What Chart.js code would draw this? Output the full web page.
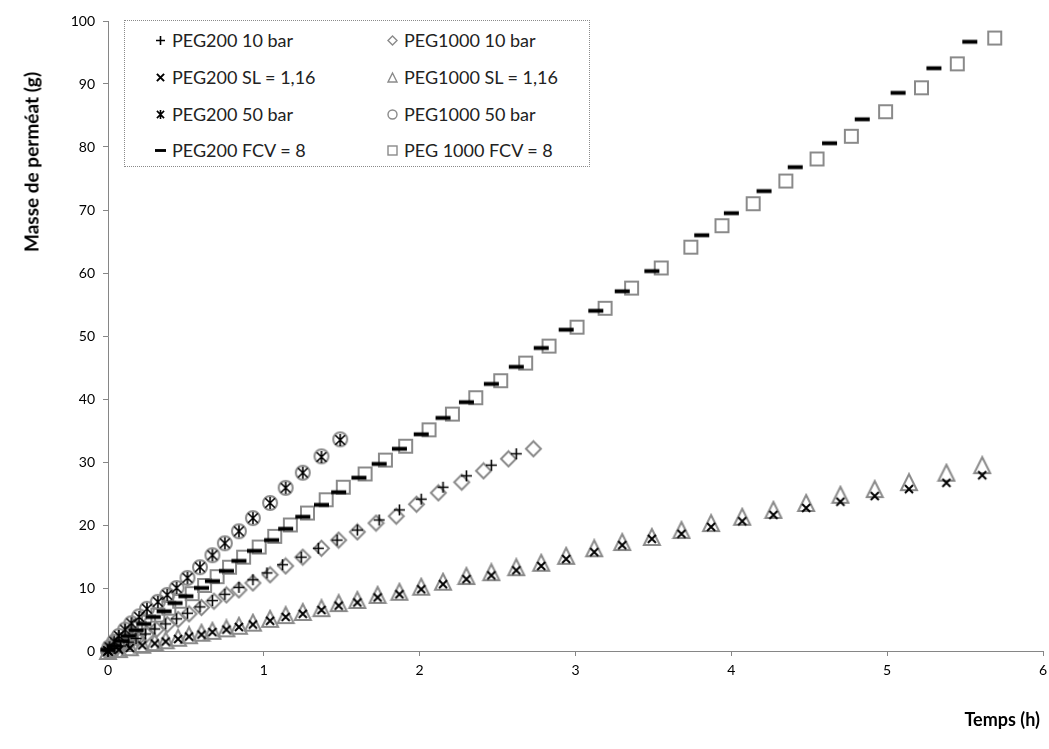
<!DOCTYPE html>
<html>
<head>
<meta charset="utf-8">
<script src="https://cdn.jsdelivr.net/npm/chart.js@4.4.0/dist/chart.umd.min.js"></script>
<style>
  body { margin: 0; background: #fff; font-family: Lato, "Open Sans", sans-serif; }
  #cadre { position: relative; width: 1049px; height: 749px; }
  #graf { position: absolute; left: 0; top: 0; }
  .titreY { position: absolute; left: 31px; top: 162px; transform: translate(-50%, -50%) rotate(-90deg);
            font-weight: bold; font-size: 19px; white-space: nowrap; color: #000; }
  .titreX { position: absolute; right: 9px; top: 708px; font-weight: bold; font-size: 18px; color: #000; }
  #legende { position: absolute; left: 124px; top: 20px; width: 466px; height: 147px;
             border: 1.5px dotted #8a8a8a; box-sizing: border-box; background: #fff; }
  .item { position: absolute; font-size: 18px; color: #222; white-space: nowrap; line-height: 20px; }
  .item canvas { position: absolute; }
</style>
</head>
<body>
<div id="cadre">
  <canvas id="graf" width="1049" height="749"></canvas>
  <div class="titreY">Masse de perméat (g)</div>
  <div class="titreX">Temps (h)</div>
  <div id="legende"></div>
</div>
<script>
// Donnees (temps en h, masse en g)
const peg200_10bar_t = [0.0,0.04,0.08,0.13,0.18,0.24,0.30,0.37,0.44,0.51,0.59,0.67,0.75,0.84,0.93,1.02,1.12,1.24,1.35,1.47,1.60,1.74,1.87,2.01,2.15,2.30,2.46,2.62];
const peg200_10bar_m = [0.0,0.4,0.8,1.4,2.0,2.7,3.5,4.3,5.1,6.0,7.0,8.0,9.0,10.1,11.3,12.4,13.7,14.9,16.3,17.6,19.2,20.8,22.4,24.1,26.0,27.8,29.5,31.3];

const peg1000_10bar_t = [0.01,0.05,0.09,0.14,0.19,0.25,0.31,0.38,0.45,0.52,0.60,0.68,0.76,0.84,0.93,1.04,1.14,1.25,1.37,1.48,1.60,1.72,1.85,1.98,2.12,2.27,2.41,2.57,2.73];
const peg1000_10bar_m = [0.1,0.4,0.9,1.4,2.0,2.7,3.4,4.2,5.0,5.9,6.9,7.9,8.9,9.7,10.8,12.1,13.5,14.9,16.3,17.6,18.9,20.3,21.4,23.3,25.1,26.8,28.6,30.5,32.1];

const sl_t = [0.0,0.07,0.14,0.22,0.30,0.37,0.45,0.52,0.60,0.67,0.76,0.84,0.93,1.04,1.14,1.25,1.37,1.48,1.60,1.73,1.87,2.01,2.15,2.30,2.46,2.62,2.78,2.94,3.12,3.30,3.49,3.68,3.87,4.07,4.27,4.48,4.70,4.92,5.14,5.38,5.61];
const peg200_sl_m = [0.0,0.2,0.5,0.9,1.2,1.5,1.9,2.3,2.6,3.0,3.4,3.8,4.2,4.8,5.4,5.9,6.5,7.2,7.7,8.5,9.0,9.8,10.6,11.4,12.0,12.8,13.5,14.6,15.7,16.8,17.8,18.6,19.7,20.6,21.6,22.7,23.7,24.6,25.7,26.7,27.9];
const peg1000_sl_m = [0.0,0.3,0.6,1.0,1.4,1.7,2.1,2.5,2.9,3.2,3.6,4.0,4.5,5.1,5.7,6.2,6.8,7.6,8.1,8.9,9.4,10.2,11.0,11.9,12.5,13.3,14.0,15.1,16.3,17.3,18.1,19.2,20.3,21.3,22.4,23.5,24.8,25.7,26.8,28.3,29.5];

const peg200_50bar_t = [0.0,0.01,0.04,0.07,0.11,0.15,0.20,0.25,0.32,0.38,0.44,0.51,0.59,0.67,0.75,0.84,0.93,1.04,1.14,1.25,1.37,1.49];
const peg200_50bar_m = [0.0,0.6,1.5,2.4,3.4,4.4,5.4,6.7,7.8,8.9,10.0,11.6,13.3,15.2,17.1,19.0,21.1,23.5,25.9,28.3,30.8,33.5];
const peg1000_50bar_t = [0.0,0.01,0.04,0.07,0.11,0.15,0.20,0.25,0.32,0.38,0.44,0.51,0.59,0.67,0.75,0.84,0.93,1.04,1.14,1.25,1.37,1.49];
const peg1000_50bar_m = [0.0,0.6,1.5,2.4,3.4,4.4,5.5,6.7,7.8,8.9,10.0,11.6,13.3,15.2,17.1,19.0,21.1,23.5,25.9,28.3,30.9,33.6];

const peg200_fcv_t = [0.0,0.04,0.09,0.13,0.18,0.23,0.29,0.36,0.43,0.50,0.60,0.67,0.76,0.84,0.94,1.05,1.14,1.25,1.37,1.48,1.61,1.74,1.87,2.01,2.15,2.30,2.46,2.62,2.78,2.94,3.13,3.30,3.49,3.81,4.00,4.21,4.41,4.63,4.84,5.07,5.30,5.53];
const peg200_fcv_m = [0.2,0.8,1.6,2.4,3.3,4.3,5.4,6.3,7.6,8.7,10.0,11.1,12.7,14.3,15.9,17.6,19.4,21.3,23.2,25.2,27.5,29.7,32.1,34.4,37.0,39.5,42.4,45.1,48.1,51.0,54.0,57.1,60.3,66.0,69.5,73.0,76.8,80.6,84.4,88.6,92.5,96.7];

const peg1000_fcv_t = [0.02,0.06,0.10,0.15,0.20,0.26,0.32,0.39,0.46,0.54,0.62,0.70,0.78,0.87,0.97,1.07,1.17,1.28,1.40,1.51,1.65,1.78,1.91,2.06,2.21,2.36,2.52,2.68,2.83,3.01,3.19,3.36,3.55,3.74,3.94,4.14,4.35,4.55,4.77,4.99,5.22,5.45,5.69];
const peg1000_fcv_m = [0.3,1.0,1.8,2.7,3.6,4.6,5.7,6.8,7.9,9.1,10.4,11.8,13.3,14.9,16.5,18.2,20.0,21.9,24.0,26.0,28.1,30.3,32.5,35.1,37.6,40.2,42.9,45.7,48.4,51.4,54.4,57.6,60.8,64.1,67.5,71.0,74.6,78.1,81.7,85.6,89.4,93.2,97.3];

const ticksX = [0, 1, 2, 3, 4, 5, 6];
const ticksY = [0, 10, 20, 30, 40, 50, 60, 70, 80, 90, 100];

const GRIS = "#8a8a8a";
const NOIR = "#000";

// --- marqueurs dessines dans des petits canvas ---
function marqueur(type, s) {
  const c = document.createElement("canvas");
  const dim = Math.ceil(s) + 4;
  c.width = dim; c.height = dim;
  const ctx = c.getContext("2d");
  const m = dim / 2, h = s / 2;
  ctx.lineCap = "butt";
  if (type === "plus") {
    ctx.strokeStyle = NOIR; ctx.lineWidth = 1.6;
    ctx.beginPath(); ctx.moveTo(m - h, m); ctx.lineTo(m + h, m);
    ctx.moveTo(m, m - h); ctx.lineTo(m, m + h); ctx.stroke();
  } else if (type === "croix") {
    ctx.strokeStyle = NOIR; ctx.lineWidth = 2;
    const k = h * 0.8;
    ctx.beginPath(); ctx.moveTo(m - k, m - k); ctx.lineTo(m + k, m + k);
    ctx.moveTo(m + k, m - k); ctx.lineTo(m - k, m + k); ctx.stroke();
  } else if (type === "etoile") {
    ctx.strokeStyle = NOIR; ctx.lineWidth = 1.6;
    const k = h * 0.8;
    ctx.beginPath(); ctx.moveTo(m - k, m - k); ctx.lineTo(m + k, m + k);
    ctx.moveTo(m + k, m - k); ctx.lineTo(m - k, m + k);
    ctx.moveTo(m, m - h); ctx.lineTo(m, m + h); ctx.stroke();
  } else if (type === "tiret") {
    ctx.fillStyle = NOIR;
    ctx.fillRect(m - h, m - s * 0.13, s, s * 0.26);
  } else if (type === "losange") {
    ctx.strokeStyle = GRIS; ctx.lineWidth = s > 10 ? 2 : 1.4;
    ctx.beginPath(); ctx.moveTo(m, m - h); ctx.lineTo(m + h, m); ctx.lineTo(m, m + h); ctx.lineTo(m - h, m);
    ctx.closePath(); ctx.stroke();
  } else if (type === "triangle") {
    ctx.strokeStyle = GRIS; ctx.lineWidth = s > 10 ? 2 : 1.4;
    ctx.beginPath(); ctx.moveTo(m, m - h); ctx.lineTo(m + h, m + h); ctx.lineTo(m - h, m + h);
    ctx.closePath(); ctx.stroke();
  } else if (type === "rond") {
    ctx.strokeStyle = GRIS; ctx.lineWidth = s > 10 ? 2 : 1.4;
    ctx.beginPath(); ctx.arc(m, m, h, 0, Math.PI * 2); ctx.stroke();
  } else if (type === "carre") {
    ctx.strokeStyle = GRIS; ctx.lineWidth = s > 10 ? 2 : 1.4;
    ctx.strokeRect(m - h, m - h, s, s);
  }
  return c;
}

function points(t, m) {
  return t.map((v, i) => ({ x: v, y: m[i] }));
}

// series (ordre Excel : les noirs passent au dessus)
const series = [
  { nom: "PEG200 10 bar",      t: peg200_10bar_t,  m: peg200_10bar_m,  type: "plus",     taille: 11, col: 0, lig: 0 },
  { nom: "PEG200 SL = 1,16",   t: sl_t,            m: peg200_sl_m,     type: "croix",    taille: 10, col: 0, lig: 1 },
  { nom: "PEG200 50 bar",      t: peg200_50bar_t,  m: peg200_50bar_m,  type: "etoile",   taille: 12, col: 0, lig: 2 },
  { nom: "PEG200 FCV = 8",     t: peg200_fcv_t,    m: peg200_fcv_m,    type: "tiret",    taille: 15, col: 0, lig: 3 },
  { nom: "PEG1000 10 bar",     t: peg1000_10bar_t, m: peg1000_10bar_m, type: "losange",  taille: 15, col: 1, lig: 0 },
  { nom: "PEG1000 SL = 1,16",  t: sl_t,            m: peg1000_sl_m,    type: "triangle", taille: 16, col: 1, lig: 1 },
  { nom: "PEG1000 50 bar",     t: peg1000_50bar_t, m: peg1000_50bar_m, type: "rond",     taille: 14, col: 1, lig: 2 },
  { nom: "PEG 1000 FCV = 8",   t: peg1000_fcv_t,   m: peg1000_fcv_m,   type: "carre",    taille: 13, col: 1, lig: 3 }
];

const datasets = series.map(s => ({
  label: s.nom,
  data: points(s.t, s.m),
  pointStyle: marqueur(s.type, s.taille),
  pointRadius: 5,
  pointHoverRadius: 5,
  showLine: false,
  clip: false
}));

new Chart(document.getElementById("graf"), {
  type: "scatter",
  data: { datasets },
  options: {
    responsive: false,
    animation: false,
    devicePixelRatio: 1,
    layout: { padding: { top: 21, right: 3, bottom: 0, left: 0 } },
    plugins: { legend: { display: false }, tooltip: { enabled: false } },
    scales: {
      x: {
        type: "linear", min: 0, max: 6,
        afterBuildTicks: sc => { sc.ticks = ticksX.map(v => ({ value: v })); },
        afterFit: sc => { sc.height = 98; sc.paddingLeft = 0; sc.paddingRight = 0; },
        ticks: { color: "#000", font: { family: "Lato", size: 14 }, padding: 6, maxRotation: 0 },
        grid: { drawOnChartArea: false, tickLength: 5, color: "#868686" },
        border: { color: "#868686", width: 1 }
      },
      y: {
        type: "linear", min: 0, max: 100,
        afterBuildTicks: sc => { sc.ticks = ticksY.map(v => ({ value: v })); },
        afterFit: sc => { sc.width = 108; },
        ticks: { color: "#000", font: { family: "Lato", size: 14 }, padding: 8 },
        grid: { drawOnChartArea: false, tickLength: 5, color: "#868686" },
        border: { color: "#868686", width: 1 }
      }
    }
  }
});

// legende en HTML, 2 colonnes
const legende = document.getElementById("cadre");
const ligY = [40, 77, 114, 150];
const colSym = [160, 392];
series.forEach(s => {
  const d = document.createElement("div");
  d.className = "item";
  d.style.left = (colSym[s.col] + 12) + "px";
  d.style.top = (ligY[s.lig] - 10) + "px";
  d.textContent = s.nom;
  const sym = marqueur(s.type, s.type === "tiret" ? 11 : 9);
  sym.style.left = (colSym[s.col] - (colSym[s.col] + 12) - sym.width / 2) + "px";
  sym.style.top = (10 - sym.height / 2) + "px";
  d.appendChild(sym);
  legende.appendChild(d);
});
</script>
</body>
</html>
